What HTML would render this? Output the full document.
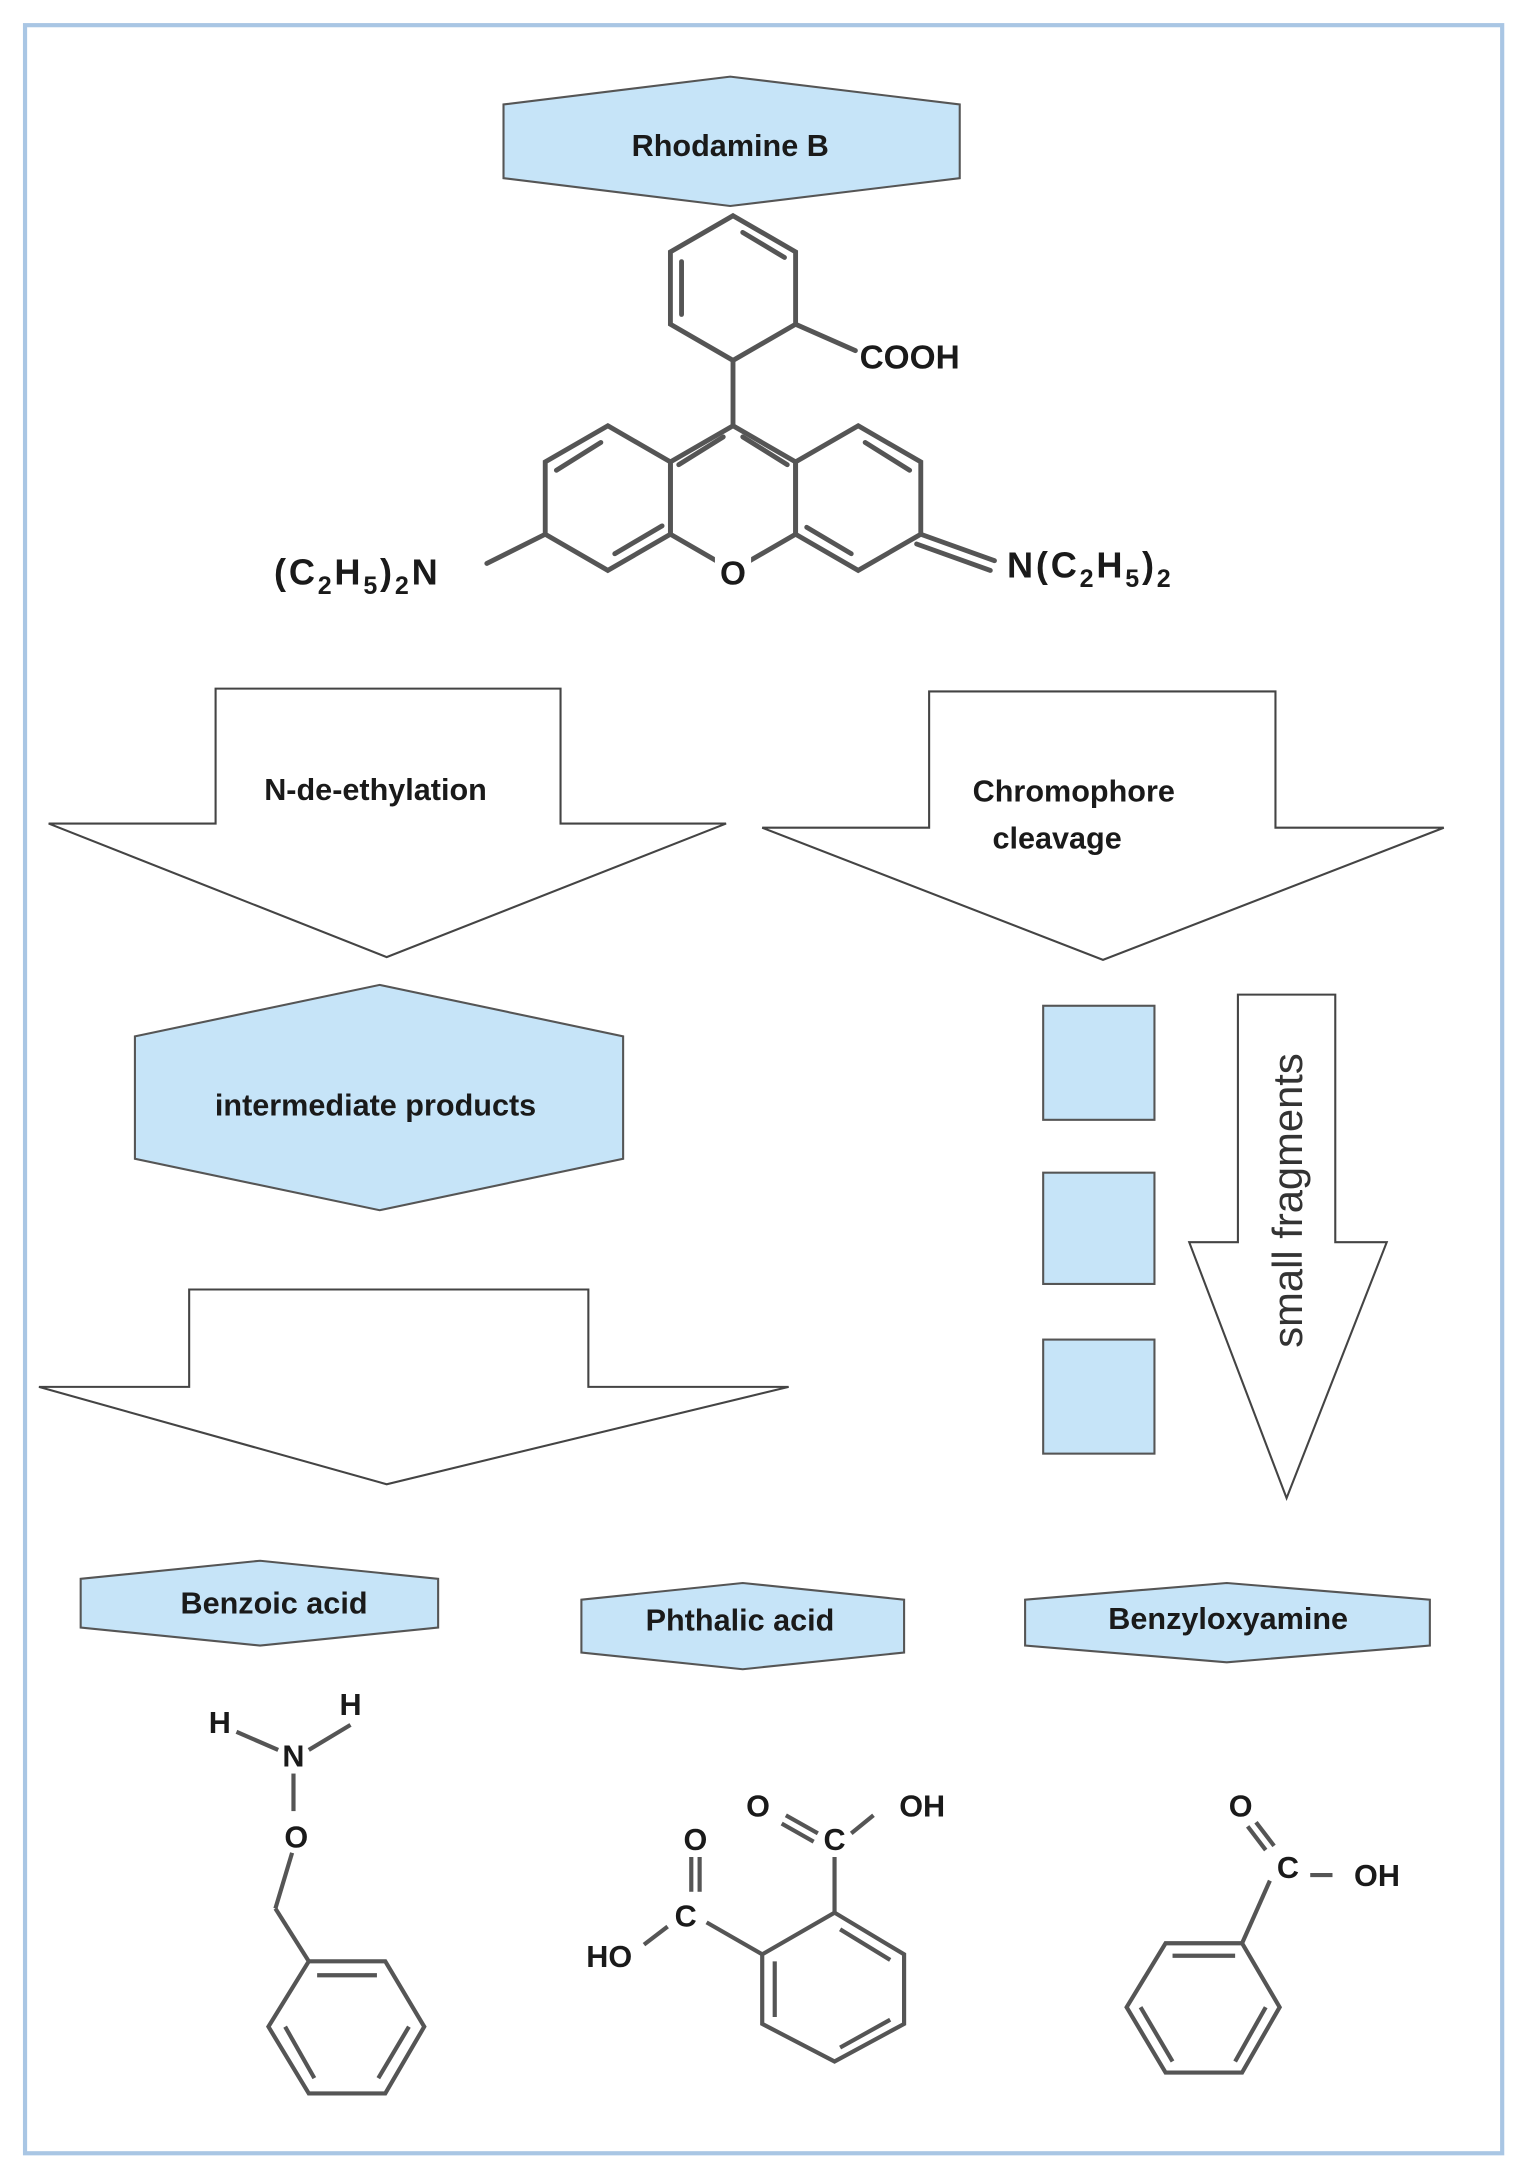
<!DOCTYPE html>
<html><head><meta charset="utf-8"><style>
html,body{margin:0;padding:0;background:#fff;}
svg{display:block}
text{font-family:"Liberation Sans",Arial,sans-serif;font-weight:bold;fill:#1a1a1a}
</style></head><body>
<svg width="1530" height="2184" viewBox="0 0 1100 1570" xmlns="http://www.w3.org/2000/svg">
<rect x="18" y="18" width="1062" height="1530" fill="#fff" stroke="#a9c6e4" stroke-width="3"/>
<g fill="#c6e4f8" stroke="#555" stroke-width="1.5">
<polygon points="362,75 525,55 690,75 690,128 525,148 362,128"/>
<polygon points="97,745 273,708 448,745 448,833 273,870 97,833"/>
<polygon points="58,1135 187,1122 315,1135 315,1170 187,1183 58,1170"/>
<polygon points="418,1150 534,1138 650,1150 650,1188 534,1200 418,1188"/>
<polygon points="737,1150 882,1138 1028,1150 1028,1183 882,1195 737,1183"/>
<rect x="750" y="723" width="80" height="82"/>
<rect x="750" y="843" width="80" height="80"/>
<rect x="750" y="963" width="80" height="82"/>
</g>
<g fill="#fff" stroke="#444" stroke-width="1.5">
<polygon points="155,495 403,495 403,592 522,592 278,688 35,592 155,592"/>
<polygon points="668,497 917,497 917,595 1038,595 793,690 548,595 668,595"/>
<polygon points="136,927 423,927 423,997 567,997 278,1067 28,997 136,997"/>
<polygon points="890,715 960,715 960,893 997,893 925,1077 855,893 890,893"/>
</g>
<g font-size="22" text-anchor="middle">
<text x="525" y="112">Rhodamine B</text>
<text x="270" y="575">N-de-ethylation</text>
<text x="772" y="576">Chromophore</text>
<text x="760" y="610">cleavage</text>
<text x="270" y="802">intermediate products</text>
<text x="197" y="1160">Benzoic acid</text>
<text x="532" y="1172">Phthalic acid</text>
<text x="883" y="1171">Benzyloxyamine</text>
</g>
<text x="0" y="0" font-size="30" text-anchor="middle" style="font-weight:normal;fill:#333" transform="translate(936,863) rotate(-90)">small fragments</text>
<!-- Rhodamine structure -->
<g stroke="#555" stroke-width="3.5" fill="none" stroke-linecap="round">
<polygon points="527,155 572,181 572,233 527,259 482,233 482,181"/>
<line x1="490" y1="188" x2="490" y2="226"/><line x1="534" y1="167" x2="564" y2="185"/>
<line x1="527" y1="259" x2="527" y2="306"/>
<line x1="572" y1="233" x2="615" y2="252"/>
<polygon points="527,306 572,332 572,384 527,410 482,384 482,332"/>
<polygon points="437,306 482,332 482,384 437,410 392,384 392,332"/>
<polygon points="617,306 662,332 662,384 617,410 572,384 572,332"/>
<line x1="400" y1="338" x2="432" y2="318"/><line x1="442" y1="398" x2="476" y2="378"/>
<line x1="622" y1="318" x2="654" y2="338"/><line x1="580" y1="379" x2="612" y2="398"/>
<line x1="520" y1="314" x2="488" y2="334"/><line x1="534" y1="314" x2="566" y2="334"/>
<line x1="392" y1="384" x2="350" y2="405"/>
<line x1="662" y1="384" x2="715" y2="403"/><line x1="659" y1="391" x2="712" y2="410"/>
</g>
<rect x="514" y="397" width="26" height="26" fill="#fff"/>
<g font-size="24">
<text x="527" y="420" text-anchor="middle">O</text>
<text x="618" y="265">COOH</text>
<text x="197" y="420" font-size="26" letter-spacing="2">(C<tspan font-size="18" dy="7">2</tspan><tspan dy="-7">H</tspan><tspan font-size="18" dy="7">5</tspan><tspan dy="-7">)</tspan><tspan font-size="18" dy="7">2</tspan><tspan dy="-7">N</tspan></text>
<text x="724" y="415" font-size="26" letter-spacing="2">N(C<tspan font-size="18" dy="7">2</tspan><tspan dy="-7">H</tspan><tspan font-size="18" dy="7">5</tspan><tspan dy="-7">)</tspan><tspan font-size="18" dy="7">2</tspan></text>
</g>
<!-- Benzyloxyamine -->
<g stroke="#555" stroke-width="3" fill="none">
<line x1="170" y1="1245" x2="200" y2="1258"/><line x1="252" y1="1240" x2="222" y2="1258"/>
<line x1="211" y1="1275" x2="211" y2="1302"/>
<line x1="210" y1="1332" x2="198" y2="1372"/><line x1="198" y1="1372" x2="222" y2="1410"/>
<polygon points="222,1410 277,1410 305,1457 277,1505 222,1505 193,1457"/>
<line x1="228" y1="1420" x2="271" y2="1420"/><line x1="294" y1="1457" x2="272" y2="1494"/><line x1="205" y1="1457" x2="226" y2="1494"/>
</g>
<g font-size="22" text-anchor="middle">
<text x="158" y="1246">H</text><text x="252" y="1233">H</text>
<text x="211" y="1270">N</text><text x="213" y="1328">O</text>
</g>
<!-- Phthalic acid -->
<g stroke="#555" stroke-width="3" fill="none">
<polygon points="600,1375 650,1405 650,1455 600,1482 548,1455 548,1405"/>
<line x1="604" y1="1387" x2="640" y2="1409"/><line x1="640" y1="1452" x2="604" y2="1472"/><line x1="557" y1="1410" x2="557" y2="1450"/>
<line x1="548" y1="1405" x2="508" y2="1382"/><line x1="600" y1="1375" x2="600" y2="1335"/>
<line x1="497" y1="1335" x2="497" y2="1360"/><line x1="503" y1="1335" x2="503" y2="1360"/>
<line x1="480" y1="1385" x2="463" y2="1398"/>
<line x1="565" y1="1305" x2="588" y2="1318"/><line x1="562" y1="1311" x2="585" y2="1324"/>
<line x1="612" y1="1318" x2="628" y2="1305"/>
</g>
<g font-size="22" text-anchor="middle">
<text x="500" y="1330">O</text><text x="493" y="1385">C</text><text x="438" y="1414">HO</text>
<text x="545" y="1306">O</text><text x="600" y="1330">C</text><text x="663" y="1306">OH</text>
</g>
<!-- Benzoic acid -->
<g stroke="#555" stroke-width="3" fill="none">
<polygon points="838,1397 893,1397 920,1443 893,1490 838,1490 810,1443"/>
<line x1="843" y1="1406" x2="888" y2="1406"/><line x1="820" y1="1443" x2="843" y2="1482"/><line x1="910" y1="1443" x2="888" y2="1482"/>
<line x1="893" y1="1397" x2="913" y2="1352"/>
<line x1="897" y1="1313" x2="910" y2="1330"/><line x1="903" y1="1310" x2="916" y2="1327"/>
<line x1="942" y1="1348" x2="958" y2="1348"/>
</g>
<g font-size="22" text-anchor="middle">
<text x="892" y="1306">O</text><text x="926" y="1350">C</text><text x="990" y="1356">OH</text>
</g>
</svg>
</body></html>
